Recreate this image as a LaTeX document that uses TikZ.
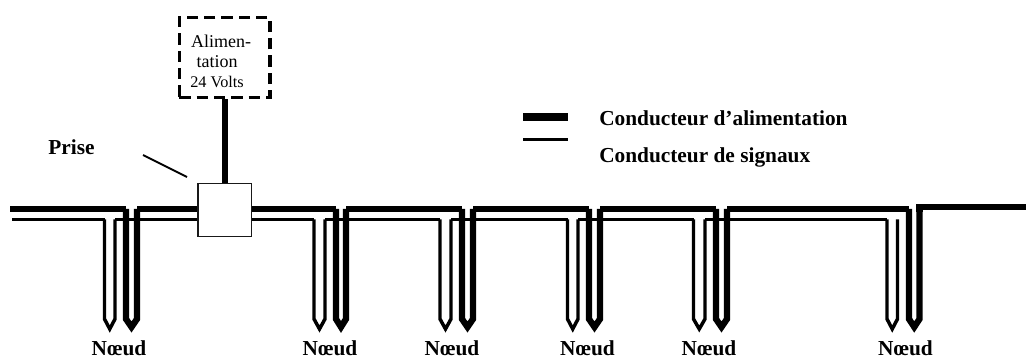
\documentclass[tikz,border=0pt]{standalone}
\usepackage{fontspec}
\setmainfont{Liberation Serif}
\tikzset{
power/.style={line width=4.7pt},
signal/.style={line width=2.6pt},
boldtext/.style={font=\bfseries\fontsize{16}{18}\selectfont,inner sep=0pt},
smalltext/.style={font=\fontsize{13.5}{16}\selectfont,inner sep=0pt},
}
\begin{document}
\begin{tikzpicture}[x=0.75pt,y=-0.75pt]
\useasboundingbox (0,0) rectangle (1026,356);
\node[draw=black!90,minimum width=40pt,minimum height=40pt,line width=1.2pt,inner sep=0pt] (prise) at (224.7,210) {};
\node[draw,line width=2.6pt,minimum width=68pt,minimum height=60pt,inner sep=0pt,dash pattern=on 8.5pt off 4.5pt] (alim) at (224.7,57.5) {};
\node[smalltext] (alim1) at (221,41) {Alimen-};
\node[smalltext] (alim2) at (217,62) {tation};
\node[smalltext,font=\fontsize{12.2}{14}\selectfont] (alim3) at (217,82) {24 Volts};
\path[draw,power] (alim) -- (prise);
\node[boldtext] (priselabel) at (71.5,147) {Prise};
\coordinate (p1) at (143,155);
\coordinate (p2) at (187,177);
\path[draw,line width=1.4pt] (p1) -- (p2);
% legend
\coordinate (l1) at (523,117);
\coordinate (l2) at (568,117);
\coordinate (l3) at (523,139.5);
\coordinate (l4) at (568,139.5);
\path[draw,line width=6pt] (l1) -- (l2);
\path[draw,signal] (l3) -- (l4);
\node[boldtext,anchor=west] (legend1) at (599,118) {Conducteur d’alimentation};
\node[boldtext,anchor=west] (legend2) at (599,157) {Conducteur de signaux};
% stubs
\foreach \s/\t/\p/\q/\m/\n in {104.5/115/126/137/119/1,314/325/336/346/330/2,440/451/462/473/452/3,567.5/578/589/600/587.5/4,693.5/705/716/727/709/5,887/897.5/909/919.5/905.5/6}{
\path[draw,signal] (\s,219.5) -- (\s,319) -- ({(\s+\t)/2},329) -- (\t,319) -- (\t,219.5);
\path[draw,power] (\p,209) -- (\p,319) -- ({(\p+\q)/2},327) -- (\q,319) -- (\q,209);
\node[boldtext] (noeud\n) at (\m,348) {Nœud};
}
% power bus
\path[draw,power] (10,209) -- (126,209);
\path[draw,power] (137,209) -- (prise.west |- 0,209);
\path[draw,power] (prise.east |- 0,209) -- (336,209);
\path[draw,power] (346,209) -- (462,209);
\path[draw,power] (473,209) -- (589,209);
\path[draw,power] (600,209) -- (716,209);
\path[draw,power] (727,209) -- (909,209);
\path[draw,power] (1026,207) -- (919.5,207) -- (919.5,212);
% signal bus
\path[draw,signal] (12,219.5) -- (104.5,219.5);
\path[draw,signal] (115,219.5) -- (prise.west |- 0,219.5);
\path[draw,signal] (prise.east |- 0,219.5) -- (314,219.5);
\path[draw,signal] (325,219.5) -- (440,219.5);
\path[draw,signal] (451,219.5) -- (567.5,219.5);
\path[draw,signal] (578,219.5) -- (693.5,219.5);
\path[draw,signal] (705,219.5) -- (887,219.5);
\end{tikzpicture}
\end{document}
